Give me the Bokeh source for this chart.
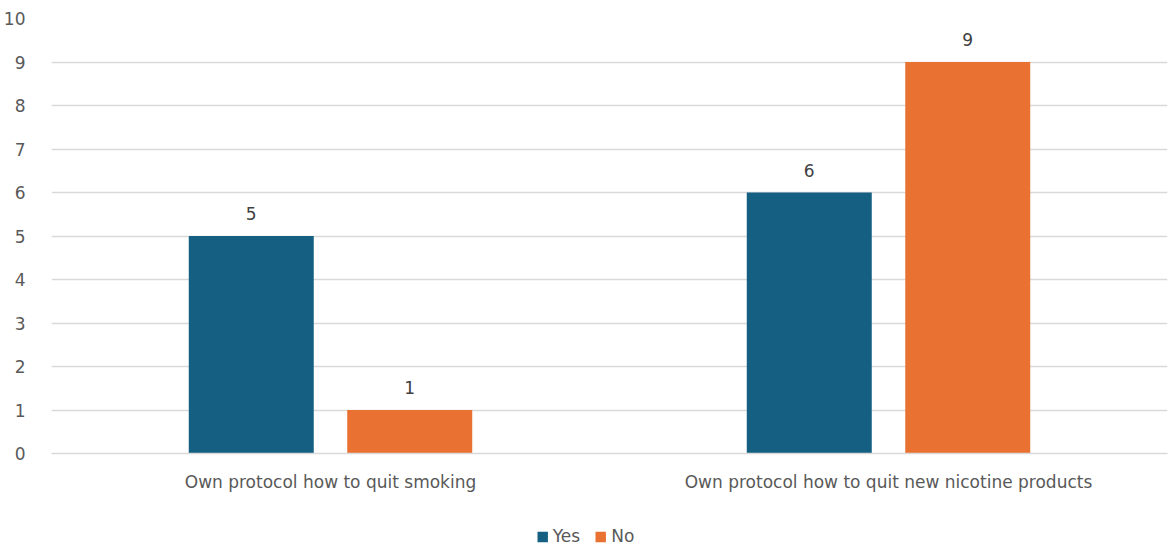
from bokeh.plotting import figure
from bokeh.models import ColumnDataSource, FactorRange, Legend, LegendItem, Range1d, SingleIntervalTicker
from bokeh.layouts import column
from bokeh.transform import dodge
from bokeh.embed import file_html
from bokeh.resources import INLINE
from bokeh.core.properties import value

categories = ["Own protocol how to quit smoking", "Own protocol how to quit new nicotine products"]
yes_values = [5, 6]
no_values = [1, 9]
series_names = ["Yes", "No"]
colors = ["#156082", "#E97132"]

FONT = "DejaVu Sans"
TXT = "#595959"

src = ColumnDataSource(dict(cat=categories, yes=yes_values, no=no_values,
                            yes_lbl=[str(v) for v in yes_values],
                            no_lbl=[str(v) for v in no_values]))

p = figure(frame_width=1116, frame_height=435, x_range=FactorRange(*categories), y_range=Range1d(0, 10),
           output_backend="svg", toolbar_location=None,
           min_border_left=51, min_border_right=3, min_border_top=18, min_border_bottom=74)
p.outline_line_color = None
p.background_fill_color = "white"
p.border_fill_color = "white"

p.vbar(x=dodge("cat", -0.142, range=p.x_range), top="yes", width=0.224, source=src,
       color=colors[0], line_color=None)
p.vbar(x=dodge("cat", 0.142, range=p.x_range), top="no", width=0.224, source=src,
       color=colors[1], line_color=None)

p.text(x=dodge("cat", -0.142, range=p.x_range), y="yes", text="yes_lbl", source=src,
       text_align="center", text_baseline="bottom", y_offset=-16,
       text_font=value(FONT), text_font_size="17px", text_color="#404040")
p.text(x=dodge("cat", 0.142, range=p.x_range), y="no", text="no_lbl", source=src,
       text_align="center", text_baseline="bottom", y_offset=-16,
       text_font=value(FONT), text_font_size="17px", text_color="#404040")

p.yaxis.ticker = SingleIntervalTicker(interval=1)
p.yaxis.axis_line_color = None
p.yaxis.major_tick_line_color = None
p.yaxis.minor_tick_line_color = None
p.yaxis.major_label_standoff = 20
p.yaxis.major_label_text_font = FONT
p.yaxis.major_label_text_font_size = "17px"
p.yaxis.major_label_text_color = TXT

p.xaxis.axis_line_color = "#d9d9d9"
p.xaxis.axis_line_width = 1.5
p.xaxis.major_tick_line_color = None
p.xaxis.minor_tick_line_color = None
p.xaxis.major_label_standoff = 12
p.xaxis.major_label_text_font = FONT
p.xaxis.major_label_text_font_size = "17px"
p.xaxis.major_label_text_color = TXT

p.xgrid.grid_line_color = None
p.ygrid.grid_line_color = "#d9d9d9"
p.ygrid.grid_line_width = 1.5

# legend strip below the chart; its swatch renderers use the series data, which lies outside this strip's range
p2 = figure(frame_width=1152, frame_height=18, x_range=Range1d(-1, 0), y_range=Range1d(-1, 0),
            output_backend="svg", toolbar_location=None,
            min_border_left=18, min_border_right=0, min_border_top=0, min_border_bottom=0)
p2.axis.visible = False
p2.grid.visible = False
p2.outline_line_color = None
l_yes = p2.vbar(x="yes", top="yes", bottom="yes", width=0.1, source=src,
                fill_color=colors[0], line_color=None)
l_no = p2.vbar(x="no", top="no", bottom="no", width=0.1, source=src,
               fill_color=colors[1], line_color=None)

legend = Legend(items=[LegendItem(label=series_names[0], renderers=[l_yes]),
                       LegendItem(label=series_names[1], renderers=[l_no])],
                orientation="horizontal", location="center",
                glyph_width=13, glyph_height=13, label_height=16,
                label_text_font=FONT, label_text_font_size="17px", label_text_color=TXT,
                label_standoff=4, spacing=14, padding=0, margin=0,
                border_line_color=None, background_fill_alpha=0)
p2.add_layout(legend, "center")

open("out.html", "w").write(file_html(column(p, p2, spacing=0), INLINE))
